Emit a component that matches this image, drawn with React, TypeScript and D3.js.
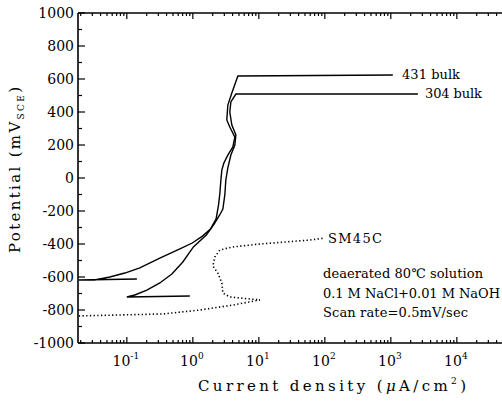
import React from 'react';
import * as d3 from 'd3';

// current density (uA/cm2) and potential (mV SCE)
const bulk431Current = [0.142, 0.0187, 0.0327, 0.0552, 0.0933, 0.157, 0.316, 0.636, 0.98, 1.4, 1.85, 2.25, 2.45, 2.57, 2.66, 2.75, 2.95, 3.39, 4.04, 4.33, 3.63, 3.27, 3.39, 3.9, 4.81, 1072];
const bulk431Potential = [-612, -618, -618, -600, -576, -545, -485, -430, -394, -352, -309, -248, -164, -91, -12, 48, 91, 139, 188, 248, 309, 352, 442, 515, 618, 624];

const bulk304Current = [0.9, 0.1, 0.132, 0.201, 0.316, 0.481, 0.705, 1.02, 1.6, 2.1, 2.55, 2.85, 3.05, 3.16, 3.39, 3.77, 4.33, 4.49, 3.9, 3.63, 3.77, 4.49, 2570];
const bulk304Potential = [-715, -721, -709, -679, -636, -582, -509, -418, -345, -279, -224, -188, -103, -12, 61, 139, 200, 261, 321, 400, 461, 509, 509];

const sm45cCurrent = [0.0187, 0.351, 1.28, 4.04, 10.4, 3.63, 2.85, 2.75, 2.39, 2.01, 2.15, 2.57, 4.04, 10.4, 59.3, 100];
const sm45cPotential = [-836, -824, -800, -770, -739, -721, -697, -636, -576, -533, -479, -436, -418, -400, -376, -364];

const yTicks = [1000, 800, 600, 400, 200, 0, -200, -400, -600, -800, -1000];
const xDecades = [-1, 0, 1, 2, 3, 4];

const FONT = "'DejaVu Serif', 'Liberation Serif', serif";

const x = d3.scaleLog().domain([10 ** -1.74, 1e5]).range([78, 78 + 6.74 * 66]);
const y = d3.scaleLinear().domain([-1000, 1000]).range([343, 13]);

function toPoints(xs: number[], ys: number[]): [number, number][] {
  return xs.map((v, i) => [v, ys[i]]);
}

const line = d3.line<[number, number]>()
  .x(d => x(d[0]))
  .y(d => y(d[1]));

export default function App() {
  const [x0] = x.range();
  const top = y(1000);
  const bottom = y(-1000);

  // log minor ticks
  let minor: number[] = [];
  for (let d = -2; d <= 5; d++) {
    for (let k = 2; k <= 9; k++) {
      let v = k * 10 ** d;
      if (v > x.domain()[0] && x(v) < 502) minor.push(v);
    }
  }
  let yMinor = d3.range(-900, 1000, 200);

  return <svg width={502} height={401} fontFamily={FONT} style={{ position: 'absolute', left: 0, top: 0, background: '#fff' }}>
    {/* frame */}
    <g stroke="#000" strokeWidth={1.6} fill="none">
      <line x1={x0} y1={top} x2={502} y2={top} />
      <line x1={x0} y1={bottom} x2={502} y2={bottom} />
      <line x1={x0} y1={top} x2={x0} y2={bottom} />
    </g>

    {/* x ticks top and bottom, y ticks */}
    <g stroke="#000" strokeWidth={1.2}>
      {xDecades.map(d =>
        <g key={d}>
          <line x1={x(10 ** d)} x2={x(10 ** d)} y1={bottom} y2={bottom - 6} />
          <line x1={x(10 ** d)} x2={x(10 ** d)} y1={top} y2={top + 6} />
        </g>
      )}
      {minor.map((v, i) =>
        <g key={i}>
          <line x1={x(v)} x2={x(v)} y1={bottom} y2={bottom - 3} />
          <line x1={x(v)} x2={x(v)} y1={top} y2={top + 3} />
        </g>
      )}
      {yTicks.map(t => <line key={t} x1={x0} x2={x0 + 7} y1={y(t)} y2={y(t)} />)}
      {yMinor.map(t => <line key={t} x1={x0} x2={x0 + 4} y1={y(t)} y2={y(t)} />)}
    </g>

    {/* y tick labels */}
    <g fontSize={14} textAnchor="end">
      {yTicks.map(t => <text key={t} x={74} y={y(t) + 5}>{t}</text>)}
    </g>

    {/* x tick labels */}
    <g fontSize={14} textAnchor="middle">
      {xDecades.map(d =>
        <text key={d} x={x(10 ** d) - 1} y={366}>
          10<tspan fontSize={9} dy={-7}>{d < 0 ? '-' + Math.abs(d) : d}</tspan>
        </text>
      )}
    </g>

    {/* axis titles */}
    <text x={198} y={391} fontSize={15} textLength={268} lengthAdjust="spacing">
      Current density (<tspan fontStyle="italic">μ</tspan>A/cm<tspan fontSize={9} dy={-7}>2</tspan><tspan dy={7}>)</tspan>
    </text>
    <text transform="translate(20,253) rotate(-90)" fontSize={15} textLength={166} lengthAdjust="spacing">
      Potential (mV<tspan fontSize={9} dy={4}>SCE</tspan><tspan dy={-4}>)</tspan>
    </text>

    {/* curves */}
    <g fill="none" stroke="#000">
      <path d={line(toPoints(bulk431Current, bulk431Potential)) || ''} strokeWidth={1.4} />
      <path d={line(toPoints(bulk304Current, bulk304Potential)) || ''} strokeWidth={1.4} />
      <path d={line(toPoints(sm45cCurrent, sm45cPotential)) || ''} strokeWidth={1.6} strokeDasharray="1.3,2.4" />
    </g>

    {/* curve labels */}
    <g fontSize={13}>
      <text x={402} y={79} textLength={58} lengthAdjust="spacing">431 bulk</text>
      <text x={425} y={98} textLength={57} lengthAdjust="spacing">304 bulk</text>
      <text x={328} y={243} textLength={54} lengthAdjust="spacing">SM45C</text>
    </g>

    {/* conditions */}
    <g fontSize={13}>
      <text x={323} y={278} textLength={160} lengthAdjust="spacing">deaerated 80℃ solution</text>
      <text x={323} y={298} textLength={177} lengthAdjust="spacing">0.1 M NaCl+0.01 M NaOH</text>
      <text x={323} y={317} textLength={145} lengthAdjust="spacing">Scan rate=0.5mV/sec</text>
    </g>
  </svg>;
}
